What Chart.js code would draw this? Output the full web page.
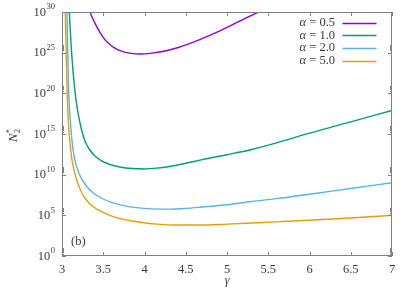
<!DOCTYPE html>
<html><head><meta charset="utf-8">
<script src="https://cdn.jsdelivr.net/npm/chart.js@4.4.0/dist/chart.umd.min.js"></script>
<style>html,body{margin:0;padding:0;background:#fff}#wrap{width:415px;height:291px}</style>
</head><body><div id="wrap"><canvas id="c" width="415" height="291"></canvas></div>
<script>
// ---- data (y values are stored as log10 of N2*) ----
const alphaValues = ['0.5', '1.0', '2.0', '5.0'];
const seriesColors = ['#9400d3', '#009e73', '#56b4e9', '#e69f00'];

const gammaA05 = [3.325, 3.34, 3.40, 3.46, 3.52, 3.58, 3.64, 3.72, 3.82, 3.95, 4.09, 4.25, 4.40, 4.67, 4.92, 5.16, 5.38, 5.48];
const logNA05  = [30.5, 30.0, 28.6, 27.5, 26.6, 26.0, 25.55, 25.2, 24.95, 24.84, 24.95, 25.2, 25.6, 26.6, 27.7, 28.9, 30.0, 30.5];

const gammaA10 = [3.084, 3.089, 3.11, 3.14, 3.17, 3.20, 3.24, 3.28, 3.34, 3.40, 3.48, 3.58, 3.70, 3.85, 4.00, 4.15, 4.30, 4.50, 4.70, 5.00, 5.30, 5.60, 6.00, 6.50, 7.00];
const logNA10  = [31.0, 30.0, 26.0, 22.0, 19.2, 17.3, 15.4, 14.1, 13.0, 12.3, 11.7, 11.25, 10.95, 10.75, 10.7, 10.8, 11.0, 11.4, 11.85, 12.45, 13.1, 13.9, 15.1, 16.5, 17.9];

const gammaA20 = [3.057, 3.06, 3.08, 3.10, 3.12, 3.14, 3.16, 3.20, 3.24, 3.30, 3.38, 3.48, 3.60, 3.75, 3.90, 4.10, 4.30, 4.50, 4.70, 5.00, 5.30, 5.60, 6.00, 6.50, 7.00];
const logNA20  = [31.0, 30.0, 20.5, 16.8, 14.3, 12.7, 11.6, 10.3, 9.45, 8.55, 7.75, 7.1, 6.6, 6.2, 5.95, 5.8, 5.76, 5.85, 6.02, 6.3, 6.7, 7.05, 7.6, 8.3, 9.0];

const gammaA50 = [3.037, 3.04, 3.06, 3.08, 3.10, 3.12, 3.15, 3.18, 3.23, 3.28, 3.36, 3.48, 3.62, 3.80, 3.95, 4.15, 4.40, 4.67, 5.00, 5.30, 5.60, 6.00, 6.50, 7.00];
const logNA50  = [31.0, 30.0, 21.0, 16.0, 13.6, 11.9, 10.4, 9.3, 8.0, 7.1, 6.2, 5.45, 4.85, 4.4, 4.15, 3.92, 3.81, 3.81, 3.92, 4.05, 4.2, 4.4, 4.68, 5.0];

const xTickValues = [3, 3.5, 4, 4.5, 5, 5.5, 6, 6.5, 7];
const yTickExponents = [0, 5, 10, 15, 20, 25, 30];

const gammas = [gammaA05, gammaA10, gammaA20, gammaA50];
const logNs = [logNA05, logNA10, logNA20, logNA50];

const FONT = "'Liberation Serif','DejaVu Serif',serif";
const TXT = '#3a3a3a';
const FRAME = '#808080';

const datasets = alphaValues.map((a, i) => ({
  label: 'α = ' + a,
  data: gammas[i].map((g, j) => ({x: g, y: Math.pow(10, logNs[i][j])})),
  borderColor: seriesColors[i],
  backgroundColor: seriesColors[i],
  borderWidth: 1.4,
  pointRadius: 0,
  fill: false,
  cubicInterpolationMode: 'monotone'
}));

const decor = {
  id: 'decor',
  afterDraw(chart) {
    const ctx = chart.ctx;
    const xs = chart.scales.x, ys = chart.scales.y;
    const a = chart.chartArea;
    ctx.save();
    ctx.strokeStyle = FRAME;
    ctx.lineWidth = 1;
    ctx.strokeRect(Math.round(a.left) + 0.5, Math.round(a.top) + 0.5, Math.round(a.right - a.left) - 1, Math.round(a.bottom - a.top) - 1);
    ctx.beginPath();
    xTickValues.forEach(v => {
      const px = Math.round(xs.getPixelForValue(v)) + 0.5;
      ctx.moveTo(px, a.bottom); ctx.lineTo(px, a.bottom - 4);
      ctx.moveTo(px, a.top); ctx.lineTo(px, a.top + 4);
    });
    yTickExponents.forEach(e => {
      const py = Math.round(ys.getPixelForValue(Math.pow(10, e))) + 0.5;
      ctx.moveTo(a.left, py); ctx.lineTo(a.left + 4, py);
      ctx.moveTo(a.right, py); ctx.lineTo(a.right - 4, py);
      if (e < 30) {
        for (let k = 2; k <= 9; k++) {
          const pm = Math.round(ys.getPixelForValue(k * Math.pow(10, e))) + 0.5;
          ctx.moveTo(a.left, pm); ctx.lineTo(a.left + 2, pm);
          ctx.moveTo(a.right, pm); ctx.lineTo(a.right - 2, pm);
        }
      }
    });
    ctx.stroke();

    ctx.fillStyle = TXT;
    ctx.textBaseline = 'middle';
    yTickExponents.forEach(e => {
      const py = ys.getPixelForValue(Math.pow(10, e));
      ctx.font = '8.5px ' + FONT;
      const sup = String(e);
      const ws = ctx.measureText(sup).width;
      ctx.textAlign = 'left';
      const right = 55;
      ctx.fillText(sup, right - ws, py - 5);
      ctx.font = '12.5px ' + FONT;
      const wb = ctx.measureText('10').width;
      ctx.fillText('10', right - ws - wb - 0.5, py + 0.5);
    });

    ctx.textAlign = 'center';
    ctx.font = 'italic 12px ' + FONT;
    ctx.fillText('γ', xs.getPixelForValue(5), 281);

    ctx.save();
    ctx.translate(13, 134);
    ctx.rotate(-Math.PI / 2);
    ctx.textAlign = 'left';
    ctx.textBaseline = 'alphabetic';
    ctx.font = 'italic 12.5px ' + FONT;
    const wN = ctx.measureText('N').width;
    ctx.fillText('N', -8, 4);
    ctx.font = '8.5px ' + FONT;
    ctx.fillText('2', -8 + wN + 0.5, 6.5);
    ctx.fillText('*', -8 + wN + 0.5, -1.5);
    ctx.restore();

    ctx.textAlign = 'left';
    ctx.textBaseline = 'middle';
    ctx.font = '12.5px ' + FONT;
    ctx.fillText('(b)', 71, 242);

    chart.data.datasets.forEach((ds, i) => {
      const y = 22.7 + i * 12.7;
      const rest = ' = ' + alphaValues[i];
      ctx.font = '12.5px ' + FONT;
      const wr = ctx.measureText(rest).width;
      ctx.font = 'italic 12.5px ' + FONT;
      const wa = ctx.measureText('α').width;
      const xEnd = 335;
      ctx.fillStyle = TXT;
      ctx.fillText('α', xEnd - wr - wa, y);
      ctx.font = '12.5px ' + FONT;
      ctx.fillText(rest, xEnd - wr, y);
      ctx.strokeStyle = ds.borderColor;
      ctx.lineWidth = 1.4;
      ctx.beginPath();
      ctx.moveTo(342.5, Math.round(y) + 0.5);
      ctx.lineTo(376.5, Math.round(y) + 0.5);
      ctx.stroke();
    });
    ctx.restore();
  }
};

new Chart(document.getElementById('c'), {
  type: 'line',
  data: {datasets},
  options: {
    responsive: false,
    animation: false,
    devicePixelRatio: 1,
    layout: {padding: {top: 12, right: 23, left: 0, bottom: 0}},
    plugins: {legend: {display: false}, tooltip: {enabled: false}},
    scales: {
      x: {
        type: 'linear', min: 3, max: 7,
        afterBuildTicks: s => { s.ticks = xTickValues.map(v => ({value: v})); },
        ticks: {
          color: TXT, padding: 6, maxRotation: 0, autoSkip: false,
          font: {family: FONT, size: 12.5},
          callback: v => String(v)
        },
        grid: {display: false, drawTicks: false},
        border: {display: false},
        afterFit: s => { s.height = 35; }
      },
      y: {
        type: 'logarithmic', min: 1, max: 1e30,
        ticks: {display: false},
        grid: {display: false, drawTicks: false},
        border: {display: false},
        afterFit: s => { s.width = 62; }
      }
    }
  },
  plugins: [decor]
});
</script>
</body></html>
